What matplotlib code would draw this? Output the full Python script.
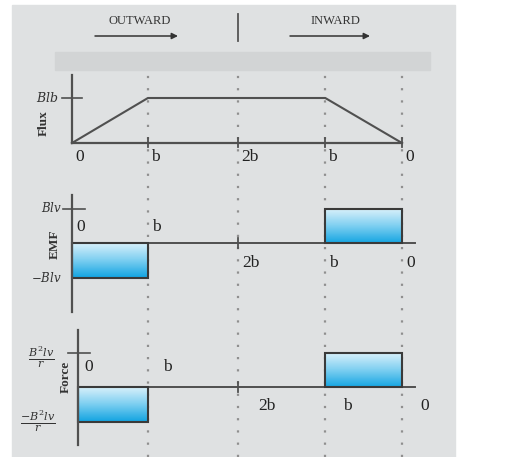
import numpy as np
import matplotlib
matplotlib.use("Agg")
import matplotlib.pyplot as plt
from matplotlib.patches import Rectangle

# ---------------- data ----------------
x_positions = [0, 0.92, 2.01, 3.07, 4.0]       # 0, b, 2b, b, 0 (as drawn)
x_labels = ["0", "b", "2b", "b", "0"]
flux_values = [0, 1, 1, 1, 0]                  # in units of Blb
emf_values = [-1, 0, 0, 1]                     # per interval, units of Blv
force_values = [-1, 0, 0, 1]                   # per interval, units of B^2 l v / r
flux_top_label = r"$Blb$"
emf_labels = [r"$Blv$", r"$-Blv$"]
force_labels = [r"$\frac{B^2lv}{r}$", r"$\frac{-B^2lv}{r}$"]
panel_names = ["Flux", "EMF", "Force"]
header_labels = ["OUTWARD", "INWARD"]

plt.rcParams["mathtext.fontset"] = "dejavuserif"
SERIF = ["Liberation Serif", "DejaVu Serif"]

W, H = 509, 457
fig = plt.figure(figsize=(W / 100, H / 100), dpi=100)

# background (pixel coordinates)
bg = fig.add_axes([0, 0, 1, 1])
bg.set_xlim(0, W)
bg.set_ylim(H, 0)
bg.axis("off")
bg.add_patch(Rectangle((12, 5), 443, 460, color="#dfe1e2", zorder=0))
bg.add_patch(Rectangle((55, 52), 375, 18, color="#d2d4d5", zorder=1))

# header
bg.text(140, 21, header_labels[0], ha="center", va="center", fontsize=9,
        family=SERIF, color="#333333")
bg.text(335, 21, header_labels[1], ha="center", va="center", fontsize=9,
        family=SERIF, color="#333333")
for x0, x1 in [(95, 178), (290, 370)]:
    bg.annotate("", xy=(x1, 36), xytext=(x0, 36),
                arrowprops=dict(arrowstyle="-|>", color="#333333", lw=1.1,
                                mutation_scale=9, shrinkA=0, shrinkB=0))
bg.plot([238, 238], [14, 41], color="#555555", lw=1.3)

SX = 82.5          # pixels per b unit horizontally
X0_PX = 72         # pixel of x = 0
AX_COL = "#505050"
TICK_FS = 12.5


def panel(py_zero, sy):
    ax = fig.add_axes([0, 0, 1, 1])
    ax.set_xlim(-X0_PX / SX, (W - X0_PX) / SX)
    ax.set_ylim((py_zero - H) / sy, py_zero / sy)
    ax.axis("off")
    ax.patch.set_visible(False)
    return ax


def px2y(ax, py, py_zero, sy):
    return (py_zero - py) / sy


CMAP = matplotlib.colors.LinearSegmentedColormap.from_list(
    "b", ["#dcf2fb", "#80d0f1", "#17a6e2"])


def gradient_bar(ax, x0, x1, y0, y1):
    grad = np.linspace(0, 1, 64).reshape(-1, 1)
    ax.imshow(grad, extent=(x0, x1, min(y0, y1), max(y0, y1)), aspect="auto",
              cmap=CMAP, origin="upper", zorder=2, interpolation="bilinear")
    ax.add_patch(Rectangle((x0, min(y0, y1)), x1 - x0, abs(y1 - y0),
                           fill=False, ec="#3a3a3a", lw=1.5, zorder=3))


# ---------------- Flux panel ----------------
fz, fs = 143, 45
axf = panel(fz, fs)
# dotted guide lines across all panels
axf.vlines(x_positions[1:], px2y(axf, 457, fz, fs), px2y(axf, 72, fz, fs),
           colors="#8f8f8f", linestyles=(0, (1, 4.5)), lw=1.6, zorder=1)
axf.plot(x_positions, flux_values, color="#505050", lw=1.5, zorder=3)
axf.plot([x_positions[0], x_positions[-1]], [0, 0], color=AX_COL, lw=1.6, zorder=3)
axf.plot([0, 0], [0, px2y(axf, 75, fz, fs)], color=AX_COL, lw=1.6, zorder=3)
axf.plot([-10 / SX, 10 / SX], [1, 1], color=AX_COL, lw=1.2, zorder=3)
for x in x_positions[1:]:
    axf.plot([x, x], [-4 / fs, 5 / fs], color=AX_COL, lw=1.3, zorder=3)
axf.text(-13 / SX, 1, flux_top_label, ha="right", va="center", fontsize=9, color="#333333")
axf.text(-28 / SX, 0.45, panel_names[0], rotation=90, ha="center", va="center",
         fontsize=9.5, family=SERIF, fontweight="bold", color="#333333")
for x, lab in zip(x_positions, x_labels):
    axf.text(x + 3 / SX, -14 / fs, lab, ha="left", va="center", fontsize=TICK_FS,
             family=SERIF, color="#222222")

# ---------------- EMF panel ----------------
ez, es = 243, 34.5
axe = panel(ez, es)
for i, v in enumerate(emf_values):
    if v != 0:
        gradient_bar(axe, x_positions[i], x_positions[i + 1], 0, v)
axe.plot([0, 0], [px2y(axe, 312, ez, es), px2y(axe, 195, ez, es)], color=AX_COL, lw=1.6, zorder=4)
axe.plot([0, x_positions[-1] + 13 / SX], [0, 0], color=AX_COL, lw=1.4, zorder=1.5)
axe.plot([-9 / SX, 13 / SX], [1, 1], color=AX_COL, lw=1.2, zorder=3)
axe.plot([x_positions[2]] * 2, [-5 / es, 5 / es], color=AX_COL, lw=1.3, zorder=3)
axe.text(-10 / SX, 1, emf_labels[0], ha="right", va="center", fontsize=8.5, color="#333333")
axe.text(-10 / SX, -1, emf_labels[1], ha="right", va="center", fontsize=8.5, color="#333333")
axe.text(-17 / SX, -0.05, panel_names[1], rotation=90, ha="center", va="center",
         fontsize=9.5, family=SERIF, fontweight="bold", color="#333333")
for i, (x, lab) in enumerate(zip(x_positions, x_labels)):
    above = i < 2
    axe.text(x + 4 / SX, (16 / es) if above else (-20 / es), lab, ha="left",
             va="center", fontsize=TICK_FS, family=SERIF, color="#222222")

# ---------------- Force panel ----------------
gz, gs = 387, 34.5
axg = panel(gz, gs)
shift = 6 / SX   # force axis drawn slightly to the right
for i, v in enumerate(force_values):
    if v != 0:
        gradient_bar(axg, x_positions[i] + (shift if i == 0 else 0), x_positions[i + 1], 0, v)
axg.plot([shift, shift], [px2y(axg, 445, gz, gs), px2y(axg, 330, gz, gs)], color=AX_COL, lw=1.6, zorder=4)
axg.plot([shift, x_positions[-1] + 13 / SX], [0, 0], color=AX_COL, lw=1.4, zorder=1.5)
axg.plot([shift - 10 / SX, shift + 12 / SX], [1, 1], color=AX_COL, lw=1.2, zorder=3)
axg.plot([x_positions[2]] * 2, [-5 / gs, 5 / gs], color=AX_COL, lw=1.3, zorder=3)
axg.text(-31 / SX, 0.85, force_labels[0], ha="center", va="center", fontsize=11.5, color="#333333")
axg.text(-34 / SX, -1.0, force_labels[1], ha="center", va="center", fontsize=11.5, color="#333333")
axg.text(-6 / SX, 0.3, panel_names[2], rotation=90, ha="center", va="center",
         fontsize=9.5, family=SERIF, fontweight="bold", color="#333333")
for i, (x, lab) in enumerate(zip(x_positions, x_labels)):
    above = i < 2
    axg.text(x + (12 if i == 0 else 15) / SX if i < 2 else x + (20 if i == 2 else 18) / SX,
             (20 / gs) if above else (-19 / gs), lab, ha="left",
             va="center", fontsize=TICK_FS, family=SERIF, color="#222222")

fig.savefig("out.png", dpi=100)
